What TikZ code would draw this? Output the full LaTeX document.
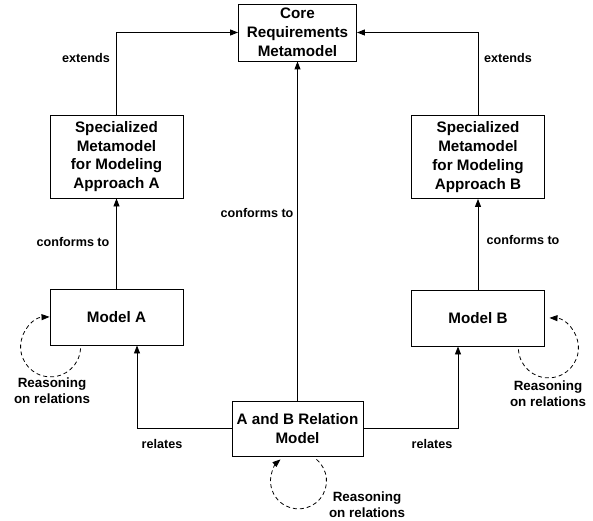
\documentclass[tikz,border=0pt]{standalone}
\usepackage{fontspec}
\setmainfont{Liberation Sans}
\usetikzlibrary{arrows.meta}
\tikzset{
  box/.style={draw, line width=0.9pt, rectangle, inner sep=0pt, align=center,
    font=\bfseries\fontsize{15.2}{18.8}\selectfont},
  arr/.style={line width=0.9pt, -{Triangle[length=8pt,width=6pt]}},
  lbl/.style={font=\bfseries\fontsize{12.6}{15}\selectfont, inner sep=0pt},
  rlbl/.style={font=\bfseries\fontsize{13.4}{16}\selectfont, inner sep=0pt, align=center},
  loop/.style={line width=0.8pt, dash pattern=on 4pt off 3pt, -{Triangle[length=8pt,width=6pt]}}
}
\begin{document}
\begin{tikzpicture}[x=1pt,y=1pt]
\useasboundingbox (0,0) rectangle (593,520);
% boxes
\node[box, minimum width=118pt, minimum height=57pt] (core) at (297.5,487.5) {Core\\Requirements\\Metamodel};
\node[box, minimum width=133pt, minimum height=83pt] (specA) at (116.5,363.5) {Specialized\\Metamodel\\for Modeling\\Approach A};
\node[box, minimum width=133pt, minimum height=83pt] (specB) at (478,363) {Specialized\\Metamodel\\for Modeling\\Approach B};
\node[box, minimum width=133pt, minimum height=56pt] (modelA) at (116.5,203) {Model A};
\node[box, minimum width=133pt, minimum height=56pt] (modelB) at (478,202) {Model B};
\node[box, minimum width=131pt, minimum height=55pt] (rel) at (297.5,91.5) {A and B Relation\\Model};
% connectors
\draw[arr] (specA.north) |- (core.west);
\draw[arr] (specB.north) |- (core.east);
\draw[arr] (modelA.north) -- (specA.south);
\draw[arr] (modelB.north) -- (specB.south);
\draw[arr] (rel.north) -- (core.south);
\draw[arr] (rel.west) -| ([xshift=20.5pt]modelA.south);
\draw[arr] (rel.east) -| ([xshift=-20pt]modelB.south);
% loops
\draw[loop] ([xshift=31pt,yshift=-3pt]modelA.south west) arc[start angle=-3, end angle=-268, radius=30];
\draw[loop] ([xshift=-26.5pt,yshift=-3pt]modelB.south east) arc[start angle=183, end angle=448, radius=30];
\draw[loop] ([xshift=19pt,yshift=-3pt]rel.south) arc[start angle=50, end angle=-230, radius=28];
% labels
\node[lbl] (extA) at (86,462) {extends};
\node[lbl] (extB) at (508,462) {extends};
\node[lbl] (confA) at (73,278) {conforms to};
\node[lbl] (confB) at (523,280) {conforms to};
\node[lbl] (confC) at (257,307) {conforms to};
\node[lbl] (relA) at (162,76) {relates};
\node[lbl] (relB) at (432,76) {relates};
\node[rlbl] (reaA) at (52,129) {Reasoning\\on relations};
\node[rlbl] (reaB) at (548,126) {Reasoning\\on relations};
\node[rlbl] (reaR) at (367,15) {Reasoning\\on relations};
\end{tikzpicture}
\end{document}
